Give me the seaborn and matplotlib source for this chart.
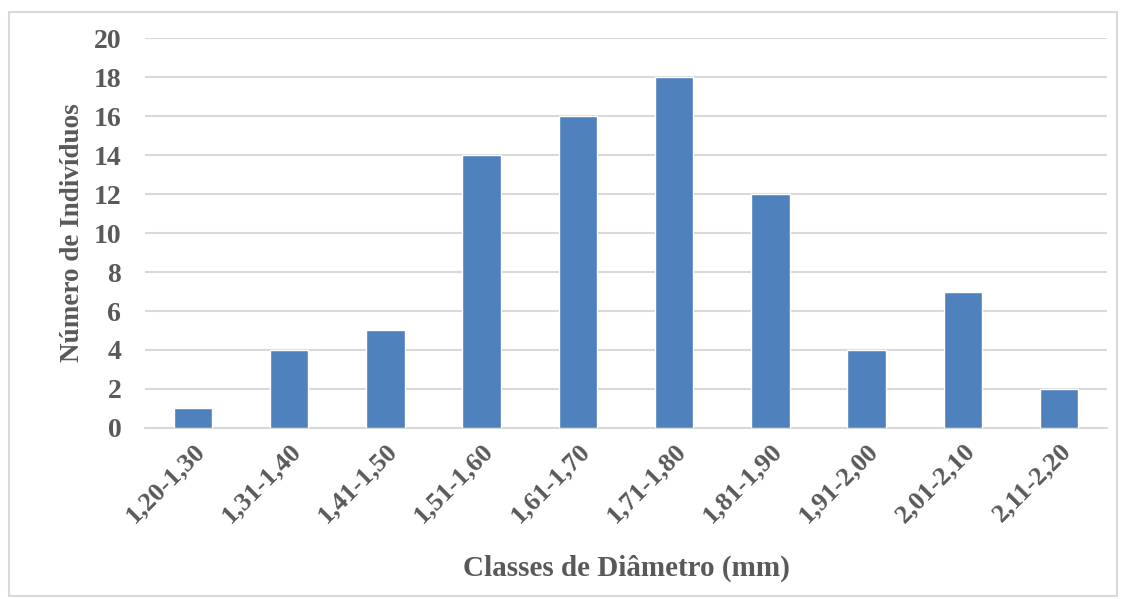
import matplotlib
matplotlib.use('Agg')
import matplotlib.pyplot as plt
import seaborn as sns
import pandas as pd
from matplotlib.patches import Rectangle

classes = ['1,20-1,30', '1,31-1,40', '1,41-1,50', '1,51-1,60', '1,61-1,70',
           '1,71-1,80', '1,81-1,90', '1,91-2,00', '2,01-2,10', '2,11-2,20']
individuos = [1, 4, 5, 14, 16, 18, 12, 4, 7, 2]

df = pd.DataFrame({'classe': classes, 'n': individuos})

sns.set_style('white')
plt.rcParams['font.family'] = ['Liberation Serif', 'DejaVu Serif']
plt.rcParams['font.weight'] = 'bold'

cor_texto = '#595959'

fig = plt.figure(figsize=(11.23, 5.99), dpi=100)
ax = fig.add_axes([0.129, 0.2855, 0.857, 0.651])

sns.barplot(data=df, x='classe', y='n', color='#4F81BD', saturation=1,
            width=0.4, ax=ax, zorder=3)

ax.set_ylim(0, 20)
ax.set_yticks(range(0, 21, 2))
ax.yaxis.grid(True, color='#D9D9D9', linewidth=1.5, zorder=0)
ax.set_axisbelow(True)
for s in ['top', 'right', 'left']:
    ax.spines[s].set_visible(False)
ax.spines['bottom'].set_color('#D9D9D9')
ax.spines['bottom'].set_linewidth(1.5)
ax.tick_params(axis='both', length=0, colors=cor_texto)
ax.tick_params(axis='y', pad=17, labelsize=20)
ax.tick_params(axis='x', pad=8, labelsize=19)
plt.setp(ax.get_xticklabels(), rotation=45, ha='right', rotation_mode='anchor', fontweight='bold')
plt.setp(ax.get_yticklabels(), fontweight='bold')

ax.set_xlabel('Classes de Diâmetro (mm)', fontsize=21, fontweight='bold', color=cor_texto, labelpad=20)
ax.set_ylabel('Número de Indivíduos', fontsize=19.5, fontweight='bold', color=cor_texto, labelpad=6)

fig.patches.append(Rectangle((0.008, 0.005), 0.987, 0.975, transform=fig.transFigure,
                             fill=False, edgecolor='#D9D9D9', linewidth=1.5))

fig.savefig('out.png', dpi=100)
